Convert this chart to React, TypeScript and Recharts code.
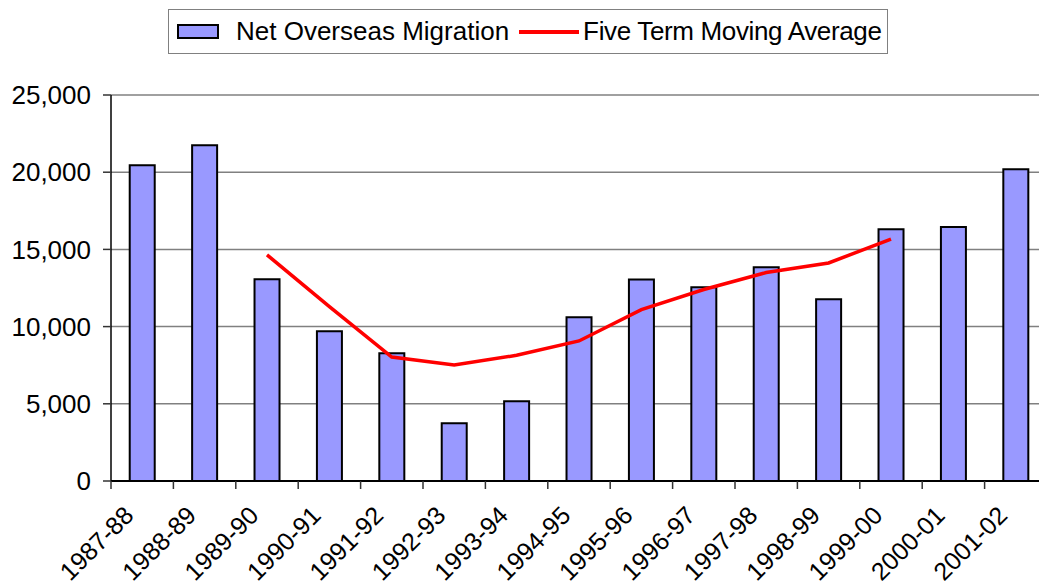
import React from "react";
import {
  ComposedChart,
  Bar,
  Line,
  XAxis,
  YAxis,
  CartesianGrid,
} from "recharts";

const categories = [
  "1987-88",
  "1988-89",
  "1989-90",
  "1990-91",
  "1991-92",
  "1992-93",
  "1993-94",
  "1994-95",
  "1995-96",
  "1996-97",
  "1997-98",
  "1998-99",
  "1999-00",
  "2000-01",
  "2001-02",
];

const netOverseasMigration = [
  20450, 21750, 13060, 9700, 8270, 3740, 5160, 10600, 13050, 12550, 13840,
  11770, 16300, 16450, 20190,
];

const movingAverage: (number | null)[] = [
  null, null, 14650, 11300, 8030, 7510, 8140, 9070, 11100, 12400, 13500,
  14120, 15670, null, null,
];

const yTicks = [0, 5000, 10000, 15000, 20000, 25000];

const FONT = "'Liberation Sans', Arial, sans-serif";
const BAR_FILL = "#9999FF";
const LINE_RED = "#FF0000";

const data = categories.map((name, i) => ({
  name,
  migration: netOverseasMigration[i],
  average: movingAverage[i],
}));

const fmt = (v: number) => v.toLocaleString("en-US");

// tick mark sits on the category boundary, label rotated under it
const XTick = (props: any) => {
  const { x, y, payload, index } = props;
  const off = payload?.offset ?? 31.2;
  const axisY = y - 4;
  const tx = x - 7;
  const ty = y + 32;
  return (
    <g>
      <line x1={x - off} y1={axisY} x2={x - off} y2={axisY + 8} stroke="#333" strokeWidth={1.5} />
      {index === categories.length - 1 && (
        <line x1={x + off} y1={axisY} x2={x + off} y2={axisY + 8} stroke="#333" strokeWidth={1.5} />
      )}
      <text
        x={tx}
        y={ty}
        textAnchor="end"
        transform={`rotate(-45, ${tx}, ${ty})`}
        fontFamily={FONT}
        fontSize={25}
        fill="#000"
      >
        {payload.value}
      </text>
    </g>
  );
};

const LegendBox = () => (
  <div
    style={{
      position: "absolute",
      left: 168,
      top: 9,
      width: 720,
      height: 45,
      boxSizing: "border-box",
      border: "1.5px solid #808080",
      display: "flex",
      alignItems: "center",
      fontFamily: FONT,
      fontSize: 26,
      color: "#000",
      background: "#fff",
      whiteSpace: "nowrap",
    }}
  >
    <span
      style={{
        display: "inline-block",
        width: 42,
        height: 15,
        marginLeft: 8,
        background: BAR_FILL,
        border: "2px solid #000",
        boxSizing: "border-box",
      }}
    />
    <span style={{ marginLeft: 17 }}>Net Overseas Migration</span>
    <span
      style={{
        display: "inline-block",
        width: 60,
        height: 4,
        marginLeft: 10,
        background: LINE_RED,
      }}
    />
    <span style={{ marginLeft: 4, letterSpacing: -0.35 }}>Five Term Moving Average</span>
  </div>
);

export default function App() {
  return (
    <div
      style={{
        position: "absolute",
        left: 0,
        top: 0,
        width: 1039,
        height: 588,
        overflow: "hidden",
        background: "#fff",
      }}
    >
      <ComposedChart
        width={1047}
        height={588}
        data={data}
        margin={{ top: 95, right: 0, bottom: 0, left: 0 }}
        barCategoryGap="30%"
      >
        <CartesianGrid vertical={false} stroke="#808080" strokeWidth={1.5} />
        <XAxis
          dataKey="name"
          height={107}
          axisLine={{ stroke: "#000", strokeWidth: 2 }}
          tickLine={false}
          tickSize={0}
          tickMargin={4}
          interval={0}
          tick={<XTick />}
        />
        <YAxis
          width={111}
          domain={[0, 25000]}
          ticks={yTicks}
          tickFormatter={fmt}
          axisLine={{ stroke: "#000", strokeWidth: 1.5 }}
          tickLine={{ stroke: "#333", strokeWidth: 1.5 }}
          tickSize={8}
          tickMargin={12}
          tick={{ fontFamily: FONT, fontSize: 26, fill: "#000" }}
        />
        <Bar
          dataKey="migration"
          fill={BAR_FILL}
          stroke="#000"
          strokeWidth={2}
          isAnimationActive={false}
        />
        <Line
          dataKey="average"
          stroke={LINE_RED}
          strokeWidth={3.5}
          dot={false}
          activeDot={false}
          connectNulls={false}
          isAnimationActive={false}
        />
      </ComposedChart>
      <LegendBox />
    </div>
  );
}
